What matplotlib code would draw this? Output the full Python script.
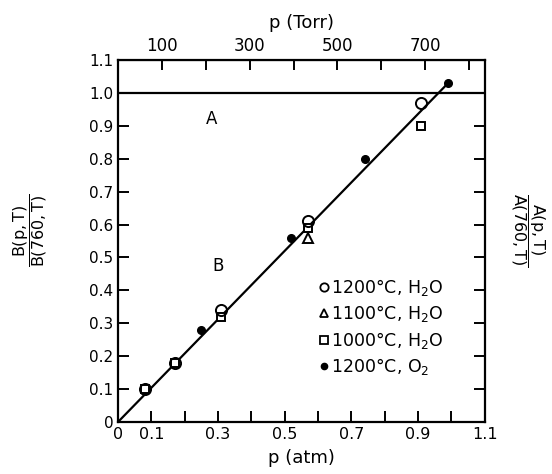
import matplotlib
matplotlib.use("Agg")
import matplotlib.pyplot as plt
from matplotlib.lines import Line2D

plt.rcParams['font.family'] = ['DejaVu Sans']
plt.rcParams['mathtext.fontset'] = 'dejavusans'

# ---- data (p in atm) ----
h2o_1200_p = [0.08, 0.17, 0.31, 0.57, 0.91]
h2o_1200_b = [0.10, 0.18, 0.34, 0.61, 0.97]

h2o_1100_p = [0.57]
h2o_1100_b = [0.56]

h2o_1000_p = [0.08, 0.17, 0.31, 0.57, 0.91]
h2o_1000_b = [0.10, 0.18, 0.32, 0.59, 0.90]

o2_1200_p = [0.25, 0.52, 0.74, 0.99]
o2_1200_b = [0.28, 0.56, 0.80, 1.03]

# fitted lines: A (flat) and B (linear through origin)
line_a_p = [0.0, 1.1]
line_a_v = [1.0, 1.0]
line_b_p = [0.0, 0.99]
line_b_v = [0.0, 1.03]

x_ticks = [0, 0.1, 0.3, 0.5, 0.7, 0.9, 1.1]
x_minor = [0.2, 0.4, 0.6, 0.8, 1.0]
y_ticks = [0, 0.1, 0.2, 0.3, 0.4, 0.5, 0.6, 0.7, 0.8, 0.9, 1.0, 1.1]
torr_ticks = [100, 300, 500, 700]
torr_minor = [200, 400, 600, 800]

fig = plt.figure(figsize=(5.52, 4.74), dpi=100)
ax = fig.add_axes([0.214, 0.110, 0.664, 0.763])

lw = 1.6
ax.plot(line_a_p, line_a_v, color='black', lw=lw)
ax.plot(line_b_p, line_b_v, color='black', lw=lw)

ms = 7
ax.plot(h2o_1000_p, h2o_1000_b, 's', ms=ms - 1, mfc='white', mec='black', mew=1.4)
ax.plot(h2o_1100_p, h2o_1100_b, '^', ms=ms, mfc='white', mec='black', mew=1.4)
ax.plot(h2o_1200_p, h2o_1200_b, 'o', ms=ms + 1, mfc='none', mec='black', mew=1.4)
ax.plot(o2_1200_p, o2_1200_b, 'o', ms=5.5, color='black')

ax.set_xlim(0, 1.1)
ax.set_ylim(0, 1.1)

ax.set_xticks(x_ticks)
ax.set_xticklabels(['0', '0.1', '0.3', '0.5', '0.7', '0.9', '1.1'])
ax.set_xticks(x_minor, minor=True)
ax.set_yticks(y_ticks)
ax.set_yticklabels(['0', '0.1', '0.2', '0.3', '0.4', '0.5', '0.6', '0.7',
                    '0.8', '0.9', '1.0', '1.1'])
ax.tick_params(which='both', direction='in', length=8, width=1.4,
               labelsize=11.5, right=True, top=False)
ax.tick_params(axis='y', which='both', labelright=False, labelsize=11)
for s in ax.spines.values():
    s.set_linewidth(1.6)

ax.set_xlabel('p (atm)', fontsize=13, labelpad=5)

# top axis in Torr
top = ax.secondary_xaxis('top', functions=(lambda p: p * 760.0,
                                           lambda t: t / 760.0))
top.set_xticks(torr_ticks)
top.set_xticks(torr_minor, minor=True)
top.tick_params(which='both', direction='in', length=7, width=1.4, labelsize=12)
top.set_xlabel('p (Torr)', fontsize=13, labelpad=7)

ax.text(0.28, 0.92, 'A', fontsize=12, ha='center', va='center')
ax.text(0.30, 0.475, 'B', fontsize=12, ha='center', va='center')

handles = [
    Line2D([], [], ls='none', marker='o', ms=6, mfc='none', mec='black', mew=1.3),
    Line2D([], [], ls='none', marker='^', ms=6, mfc='none', mec='black', mew=1.3),
    Line2D([], [], ls='none', marker='s', ms=5.5, mfc='none', mec='black', mew=1.3),
    Line2D([], [], ls='none', marker='o', ms=4.5, color='black'),
]
labels = ['1200°C, H$_2$O', '1100°C, H$_2$O', '1000°C, H$_2$O', '1200°C, O$_2$']
ax.legend(handles, labels, loc='upper left', bbox_to_anchor=(0.55, 0.40),
          frameon=False, fontsize=12.5, handlelength=0.5, handletextpad=0.15,
          borderpad=0, borderaxespad=0, labelspacing=0.3)

fig.text(0.055, 0.515, r'$\dfrac{\mathrm{B(p,T)}}{\mathrm{B(760,T)}}$',
         rotation=90, ha='center', va='center', fontsize=11.5)
fig.text(0.957, 0.515, r'$\dfrac{\mathrm{A(p,T)}}{\mathrm{A(760,T)}}$',
         rotation=270, ha='center', va='center', fontsize=11.5)

fig.savefig('out.png', dpi=100)
